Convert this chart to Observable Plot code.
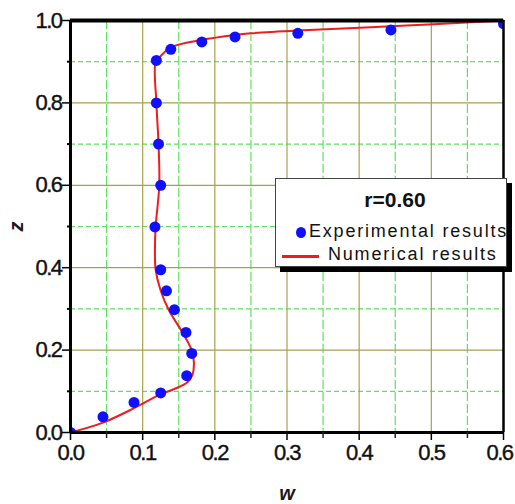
<!DOCTYPE html>
<html>
<head>
<meta charset="utf-8">
<script src="https://cdn.jsdelivr.net/npm/d3@7"></script>
<script src="https://cdn.jsdelivr.net/npm/@observablehq/plot@0.6"></script>
<style>
  html, body { margin: 0; padding: 0; background: #fff; }
  #wrap { position: relative; width: 515px; height: 504px; font-family: "Liberation Sans", Arial, sans-serif; }
  #legend { position: absolute; left: 275px; top: 178px; width: 232px; height: 89px; background: #fff;
            border: 1px solid #444; box-shadow: 5px 5px 0 #000; box-sizing: border-box; }
  #legend .t { position: absolute; left: 4px; width: 100%; text-align: center; font-weight: bold; font-size: 21px; color: #111; }
  #legend .e { position: absolute; font-size: 18px; letter-spacing: 1.8px; color: #111; white-space: nowrap; }
  #legend .dot { position: absolute; width: 10px; height: 11px; border-radius: 50%; background: #1010ff; }
  #legend .ln { position: absolute; height: 3px; background: #ee1c1c; }
</style>
</head>
<body>
<div id="wrap">
  <div id="chart"></div>
  <div id="legend">
    <span class="t" id="legTitle" style="top:9px;"></span>
    <span class="dot" style="left:20px; top:48px;"></span>
    <span class="e" id="legExp" style="left:33px; top:42px;"></span>
    <span class="ln" style="left:6px; top:76px; width:37px;"></span>
    <span class="e" id="legNum" style="left:52px; top:65px;"></span>
  </div>
</div>
<script>
// ---- data ----
const legendTitle = "r=0.60";
const seriesNames = ["Experimental results", "Numerical results"];
const axisLabels = {x: "w", y: "z"};

// Experimental results (w, z)
const expW = [0, 0.045, 0.088, 0.125, 0.161, 0.168, 0.160, 0.144, 0.133, 0.125, 0.117, 0.125, 0.122, 0.119, 0.119, 0.139, 0.182, 0.228, 0.315, 0.444, 0.600];
const expZ = [0, 0.038, 0.073, 0.096, 0.138, 0.192, 0.243, 0.298, 0.344, 0.395, 0.499, 0.600, 0.700, 0.800, 0.903, 0.930, 0.948, 0.960, 0.969, 0.977, 0.992];

// Numerical results (w, z)
const numW = [0, 0.045, 0.088, 0.125, 0.143, 0.162, 0.169, 0.171, 0.168, 0.155, 0.136, 0.125, 0.118, 0.117, 0.118, 0.123, 0.122, 0.119, 0.118, 0.124, 0.139, 0.182, 0.228, 0.250, 0.315, 0.444, 0.600];
const numZ = [0, 0.024, 0.059, 0.093, 0.105, 0.122, 0.140, 0.170, 0.200, 0.243, 0.298, 0.344, 0.395, 0.440, 0.500, 0.600, 0.700, 0.800, 0.900, 0.912, 0.935, 0.953, 0.965, 0.969, 0.976, 0.986, 1.000];

// ticks / grid
const xTicks = [0, 0.1, 0.2, 0.3, 0.4, 0.5, 0.6];
const xMinor = [0.05, 0.15, 0.25, 0.35, 0.45, 0.55];
const yTicks = [0, 0.2, 0.4, 0.6, 0.8, 1.0];
const yMinor = [0.1, 0.3, 0.5, 0.7, 0.9];
const xMajorGrid = [0.1, 0.2, 0.3, 0.4, 0.5];
const yMajorGrid = [0.2, 0.4, 0.6, 0.8];

const expData = expW.map((w, i) => ({w, z: expZ[i]}));
const numData = numW.map((w, i) => ({w, z: numZ[i]}));

const olive = "#a3a34a";
const green = "#5be35b";

const chart = Plot.plot({
  width: 515,
  height: 504,
  marginLeft: 70,
  marginRight: 12,
  marginTop: 20,
  marginBottom: 72,
  style: {fontFamily: "'Liberation Sans', Arial, sans-serif", background: "#fff"},
  x: {domain: [0, 0.6]},
  y: {domain: [0, 1]},
  marks: [
    Plot.ruleX(xMinor, {stroke: green, strokeWidth: 1.2, strokeDasharray: "9,3"}),
    Plot.ruleY(yMinor, {stroke: green, strokeWidth: 1.2, strokeDasharray: "5,3"}),
    Plot.ruleX(xMajorGrid, {stroke: olive, strokeWidth: 1.2}),
    Plot.ruleY(yMajorGrid, {stroke: olive, strokeWidth: 1.2}),
    Plot.line(numData, {x: "w", y: "z", stroke: "#ee1c1c", strokeWidth: 2, curve: "catmull-rom"}),
    Plot.dot(expData, {x: "w", y: "z", r: 5.5, fill: "#1010ff", clip: true}),
    Plot.ruleX([0], {stroke: "#000", strokeWidth: 3}),
    Plot.ruleX([0.6], {stroke: "#000", strokeWidth: 2.5}),
    Plot.ruleY([0], {stroke: "#000", strokeWidth: 3}),
    Plot.ruleY([1], {stroke: "#000", strokeWidth: 4}),
    Plot.axisX({ticks: xTicks, tickFormat: d3.format(".1f"), tickSize: 8, tickPadding: 4, fontSize: 22,
                stroke: "#000", strokeWidth: 1.5, fill: "#111", label: axisLabels.x, labelArrow: "none",
                labelAnchor: "center", labelOffset: 67}),
    Plot.axisX({ticks: xMinor, tickFormat: () => "", tickSize: 6, stroke: "#222", strokeWidth: 1.5, label: null}),
    Plot.axisY({ticks: yTicks, tickFormat: d3.format(".1f"), tickSize: 8, tickPadding: 1, fontSize: 22,
                stroke: "#000", strokeWidth: 1.5, fill: "#111", label: axisLabels.y, labelArrow: "none",
                labelAnchor: "center", labelOffset: 62}),
    Plot.axisY({ticks: yMinor, tickFormat: () => "", tickSize: 3, stroke: "#000", strokeWidth: 2, label: null})
  ]
});
document.getElementById("chart").appendChild(chart);

// style tick labels and axis labels
const xLabs = chart.querySelectorAll('g[aria-label="x-axis tick label"] text');
chart.querySelectorAll('g[aria-label="x-axis tick label"] text, g[aria-label="y-axis tick label"] text')
  .forEach(t => { t.setAttribute("letter-spacing", "-1.5"); t.setAttribute("stroke", "#111"); t.setAttribute("stroke-width", "0.4"); });
// keep the last x tick label inside the picture
let lastX = null;
xLabs.forEach(t => { if (t.textContent === "0.6") lastX = t; });
if (lastX) lastX.setAttribute("dx", "-4");
chart.querySelectorAll('g[aria-label="x-axis label"] text, g[aria-label="y-axis label"] text')
  .forEach(t => { t.setAttribute("font-style", "italic"); t.setAttribute("font-weight", "bold"); t.setAttribute("font-size", "20"); t.setAttribute("fill", "#1a1a1a"); });
const xl = chart.querySelector('g[aria-label="x-axis label"] text');
if (xl) xl.textContent = axisLabels.x;
const yl = chart.querySelector('g[aria-label="y-axis label"] text');
if (yl) yl.textContent = axisLabels.y;

document.getElementById("legTitle").textContent = legendTitle;
document.getElementById("legExp").textContent = seriesNames[0];
document.getElementById("legNum").textContent = seriesNames[1];
</script>
</body>
</html>
